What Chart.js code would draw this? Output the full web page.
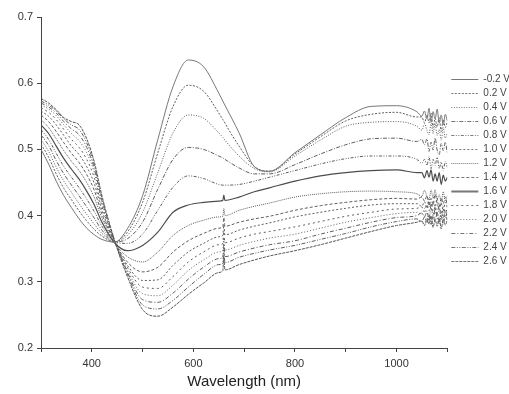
<!DOCTYPE html>
<html>
<head>
<meta charset="utf-8">
<script src="https://cdn.jsdelivr.net/npm/chart.js@4"></script>
<style>
  html, body { margin: 0; padding: 0; background: #fff; overflow: hidden; }
  #wrap { width: 509px; height: 394px; position: relative; }
</style>
</head>
<body>
<div id="wrap"><canvas id="c" width="509" height="394"></canvas></div>
<script>
// Absorbance spectra recorded at each applied potential
const wavelengths = [300, 315, 330, 345, 360, 375, 390, 405, 420, 445, 470, 500, 530, 560, 590, 620, 650, 658, 660, 662, 690, 720, 750, 800, 850, 900, 950, 1000, 1040,
  1050, 1055, 1060, 1064, 1068, 1072, 1076, 1080, 1084, 1088, 1092, 1096, 1100];

const potentials = ['-0.2 V', '0.2 V', '0.4 V', '0.6 V', '0.8 V', '1.0 V', '1.2 V', '1.4 V', '1.6 V', '1.8 V', '2.0 V', '2.2 V', '2.4 V', '2.6 V'];

const absM02 = [0.500, 0.478, 0.452, 0.430, 0.412, 0.395, 0.381, 0.371, 0.364, 0.360, 0.380, 0.430, 0.515, 0.595, 0.635, 0.625, 0.585, 0.573, 0.570, 0.567, 0.525, 0.474, 0.467, 0.495, 0.522, 0.548, 0.565, 0.566, 0.557,
  0.550, 0.558, 0.546, 0.562, 0.541, 0.557, 0.546, 0.561, 0.540, 0.552, 0.537, 0.553, 0.543];
const abs02 = [0.508, 0.488, 0.463, 0.441, 0.424, 0.407, 0.392, 0.379, 0.369, 0.360, 0.375, 0.420, 0.495, 0.565, 0.597, 0.588, 0.555, 0.545, 0.543, 0.540, 0.505, 0.474, 0.467, 0.493, 0.519, 0.543, 0.553, 0.556, 0.549,
  0.549, 0.540, 0.552, 0.540, 0.555, 0.533, 0.547, 0.534, 0.548, 0.527, 0.545, 0.533, 0.541];
const abs04 = [0.515, 0.497, 0.473, 0.452, 0.435, 0.418, 0.402, 0.387, 0.373, 0.360, 0.370, 0.405, 0.465, 0.525, 0.552, 0.547, 0.525, 0.518, 0.516, 0.514, 0.490, 0.471, 0.466, 0.490, 0.514, 0.535, 0.541, 0.542, 0.535,
  0.529, 0.539, 0.529, 0.522, 0.540, 0.524, 0.539, 0.521, 0.530, 0.514, 0.533, 0.517, 0.525];
const abs06 = [0.522, 0.506, 0.483, 0.463, 0.446, 0.430, 0.413, 0.396, 0.378, 0.360, 0.365, 0.390, 0.440, 0.485, 0.503, 0.500, 0.490, 0.487, 0.486, 0.485, 0.472, 0.463, 0.463, 0.477, 0.493, 0.507, 0.516, 0.517, 0.512,
  0.515, 0.507, 0.516, 0.497, 0.511, 0.499, 0.517, 0.499, 0.492, 0.509, 0.498, 0.511, 0.494];
const abs08 = [0.530, 0.515, 0.494, 0.474, 0.458, 0.442, 0.425, 0.406, 0.384, 0.360, 0.358, 0.372, 0.408, 0.443, 0.460, 0.456, 0.447, 0.446, 0.446, 0.446, 0.447, 0.452, 0.458, 0.468, 0.478, 0.486, 0.490, 0.490, 0.485,
  0.479, 0.485, 0.476, 0.489, 0.471, 0.485, 0.476, 0.488, 0.471, 0.481, 0.468, 0.482, 0.473];
const abs10 = [0.558, 0.550, 0.537, 0.521, 0.505, 0.492, 0.474, 0.448, 0.408, 0.360, 0.325, 0.302, 0.303, 0.325, 0.345, 0.358, 0.368, 0.370, 0.386, 0.371, 0.378, 0.384, 0.389, 0.398, 0.405, 0.411, 0.416, 0.418, 0.418,
  0.414, 0.421, 0.411, 0.425, 0.408, 0.421, 0.413, 0.426, 0.408, 0.419, 0.407, 0.420, 0.412];
const abs12 = [0.545, 0.533, 0.516, 0.498, 0.482, 0.468, 0.450, 0.427, 0.396, 0.359, 0.338, 0.330, 0.345, 0.370, 0.385, 0.393, 0.398, 0.399, 0.411, 0.400, 0.408, 0.414, 0.419, 0.428, 0.433, 0.436, 0.437, 0.436, 0.433,
  0.429, 0.438, 0.429, 0.424, 0.439, 0.426, 0.439, 0.425, 0.432, 0.420, 0.436, 0.422, 0.430];
const abs14 = [0.552, 0.542, 0.527, 0.510, 0.494, 0.480, 0.462, 0.438, 0.402, 0.360, 0.330, 0.315, 0.322, 0.345, 0.362, 0.373, 0.381, 0.383, 0.397, 0.384, 0.390, 0.395, 0.399, 0.408, 0.415, 0.420, 0.424, 0.426, 0.425,
  0.428, 0.422, 0.430, 0.415, 0.426, 0.416, 0.432, 0.418, 0.412, 0.427, 0.418, 0.428, 0.415];
const abs16 = [0.537, 0.524, 0.505, 0.486, 0.470, 0.455, 0.437, 0.416, 0.390, 0.359, 0.347, 0.355, 0.375, 0.405, 0.416, 0.420, 0.422, 0.423, 0.431, 0.423, 0.428, 0.436, 0.442, 0.452, 0.460, 0.465, 0.468, 0.469, 0.465,
  0.465, 0.457, 0.468, 0.458, 0.469, 0.452, 0.463, 0.452, 0.465, 0.447, 0.461, 0.452, 0.458];
const abs18 = [0.563, 0.556, 0.545, 0.530, 0.515, 0.503, 0.485, 0.457, 0.414, 0.361, 0.322, 0.292, 0.290, 0.308, 0.330, 0.345, 0.356, 0.358, 0.376, 0.359, 0.366, 0.372, 0.376, 0.383, 0.391, 0.399, 0.405, 0.410, 0.411,
  0.413, 0.406, 0.417, 0.407, 0.419, 0.402, 0.414, 0.403, 0.416, 0.399, 0.414, 0.404, 0.411];
const abs20 = [0.567, 0.561, 0.551, 0.537, 0.524, 0.513, 0.495, 0.465, 0.419, 0.361, 0.318, 0.282, 0.279, 0.295, 0.317, 0.333, 0.345, 0.347, 0.367, 0.348, 0.355, 0.361, 0.366, 0.372, 0.381, 0.390, 0.397, 0.403, 0.405,
  0.402, 0.411, 0.403, 0.398, 0.412, 0.400, 0.413, 0.399, 0.407, 0.394, 0.410, 0.397, 0.405];
const abs22 = [0.570, 0.564, 0.555, 0.542, 0.531, 0.522, 0.503, 0.471, 0.423, 0.362, 0.315, 0.273, 0.269, 0.283, 0.304, 0.322, 0.335, 0.337, 0.358, 0.338, 0.345, 0.351, 0.356, 0.362, 0.372, 0.381, 0.390, 0.397, 0.400,
  0.404, 0.398, 0.407, 0.392, 0.403, 0.394, 0.410, 0.396, 0.391, 0.406, 0.397, 0.408, 0.395];
const abs24 = [0.573, 0.567, 0.558, 0.546, 0.537, 0.530, 0.510, 0.476, 0.427, 0.362, 0.312, 0.265, 0.259, 0.272, 0.292, 0.311, 0.326, 0.328, 0.351, 0.329, 0.337, 0.343, 0.348, 0.355, 0.364, 0.373, 0.383, 0.391, 0.395,
  0.391, 0.398, 0.389, 0.403, 0.386, 0.400, 0.392, 0.405, 0.388, 0.399, 0.387, 0.401, 0.393];
const abs26 = [0.577, 0.570, 0.560, 0.548, 0.542, 0.537, 0.516, 0.481, 0.430, 0.362, 0.308, 0.258, 0.248, 0.262, 0.281, 0.298, 0.314, 0.317, 0.338, 0.318, 0.326, 0.333, 0.339, 0.347, 0.356, 0.366, 0.376, 0.385, 0.390,
  0.392, 0.385, 0.396, 0.387, 0.399, 0.382, 0.394, 0.384, 0.397, 0.380, 0.395, 0.386, 0.393];

const xLabeledTicks = [400, 600, 800, 1000];
const yTickValues = [0.2, 0.3, 0.4, 0.5, 0.6, 0.7];

const spectra = [absM02, abs02, abs04, abs06, abs08, abs10, abs12, abs14, abs16, abs18, abs20, abs22, abs24, abs26];

// one line pattern per potential
const dashes = [
  [], [2, 1.5], [1, 1.5], [4, 1.5, 1, 1.5], [3, 1.5, 1, 1.5, 1, 1.5], [2, 2], [1, 1],
  [3, 2], [], [2, 3], [1, 2], [4, 2, 1, 2], [4, 1.5, 1, 1.5, 1, 1.5], [3, 1]
];
const widths = [1, 1, 1, 1, 1, 1, 1, 1, 1.2, 1, 1, 1, 1, 1];
const colors = ['#777', '#5e5e5e', '#5e5e5e', '#5e5e5e', '#5e5e5e', '#5e5e5e', '#5e5e5e', '#5e5e5e', '#4d4d4d', '#5e5e5e', '#5e5e5e', '#5e5e5e', '#5e5e5e', '#555'];

const FONT = "'Liberation Sans', Arial, Helvetica, sans-serif";

const datasets = spectra.map((vals, i) => ({
  label: potentials[i],
  data: vals.map((v, k) => ({ x: wavelengths[k], y: v })),
  borderColor: colors[i],
  backgroundColor: colors[i],
  borderWidth: widths[i],
  borderDash: dashes[i],
  pointRadius: 0,
  fill: false,
  cubicInterpolationMode: 'monotone'
}));

const axisColor = '#444';

new Chart(document.getElementById('c'), {
  type: 'line',
  data: { datasets },
  options: {
    responsive: false,
    animation: false,
    devicePixelRatio: 1,
    layout: { padding: { left: 0, right: -11, top: 17, bottom: 0 } },
    plugins: {
      legend: {
        position: 'right',
        align: 'start',
        title: { display: true, text: '', padding: { top: 20.5, bottom: 21 }, font: { size: 10, family: FONT } },
        labels: {
          usePointStyle: true,
          pointStyle: 'line',
          pointStyleWidth: 27,
          boxHeight: 10,
          padding: 4,
          color: '#444',
          font: { family: FONT, size: 10 },
          generateLabels: chart => Chart.defaults.plugins.legend.labels.generateLabels(chart).map(item => {
            const ds = chart.data.datasets[item.datasetIndex];
            item.lineDash = ds.borderDash;
            item.lineWidth = ds.borderWidth > 1 ? 2 : 1;
            item.strokeStyle = '#777';
            return item;
          })
        }
      },
      tooltip: { enabled: false }
    },
    scales: {
      x: {
        type: 'linear',
        min: 300,
        max: 1100,
        afterFit: s => { s.height = 46; },
        ticks: {
          stepSize: 100,
          autoSkip: false,
          maxRotation: 0,
          padding: 5,
          color: '#333',
          font: { family: FONT, size: 11 },
          callback: v => (xLabeledTicks.includes(v) ? String(v) : '')
        },
        grid: { drawOnChartArea: false, drawTicks: true, tickLength: 4, color: axisColor },
        border: { display: true, color: axisColor },
        title: {
          display: true,
          text: 'Wavelength (nm)',
          color: '#222',
          font: { family: FONT, size: 15 },
          padding: { top: 0, bottom: 3 }
        }
      },
      y: {
        min: 0.2,
        max: 0.7,
        afterFit: s => { s.width = 41; },
        afterBuildTicks: s => { s.ticks = yTickValues.map(v => ({ value: v })); },
        ticks: {
          padding: 4,
          color: '#333',
          font: { family: FONT, size: 11 },
          callback: v => Number(v).toFixed(1)
        },
        grid: { drawOnChartArea: false, drawTicks: true, tickLength: 4, color: axisColor },
        border: { display: true, color: axisColor }
      }
    }
  }
});
</script>
</body>
</html>
